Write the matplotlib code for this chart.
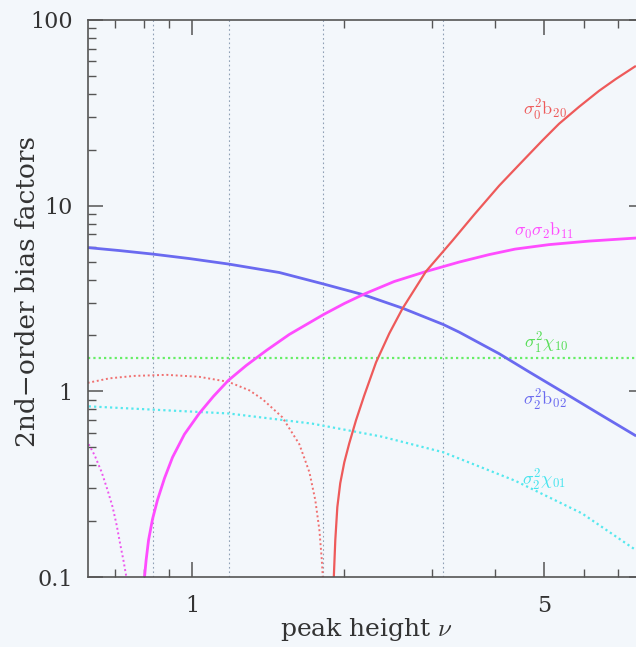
import matplotlib
matplotlib.use("Agg")
import matplotlib.pyplot as plt
from matplotlib.ticker import FixedLocator, FuncFormatter, NullFormatter

plt.rcParams['font.family'] = ['DejaVu Serif']
plt.rcParams['mathtext.fontset'] = 'cm'

# curves: (nu, value)
nu_b20 = [1.910, 1.923, 1.941, 1.967, 2.004, 2.050, 2.114, 2.196, 2.317, 2.462, 2.616, 2.911,
          3.288, 3.631, 4.071, 4.460, 4.955, 5.355, 5.868, 6.430, 6.950, 7.58]
b20 = [0.1, 0.158, 0.238, 0.320, 0.415, 0.525, 0.698, 0.952, 1.432, 2.050, 2.794, 4.418,
       6.484, 8.945, 12.81, 16.61, 22.36, 27.61, 34.07, 41.53, 48.18, 56.17]

nu_b11 = [0.803, 0.809, 0.818, 0.833, 0.852, 0.880, 0.913, 0.964, 1.032, 1.101, 1.179, 1.280,
          1.403, 1.558, 1.823, 2.004, 2.196, 2.518, 2.911, 3.390, 3.889, 4.379, 5.117, 6.142, 7.58]
b11 = [0.1, 0.1234, 0.158, 0.205, 0.2594, 0.3405, 0.4416, 0.5871, 0.7616, 0.9399, 1.146, 1.380,
       1.661, 2.025, 2.594, 2.972, 3.344, 3.904, 4.418, 4.969, 5.452, 5.836, 6.170, 6.444, 6.688]

nu_b02 = [0.619, 0.716, 0.833, 0.986, 1.179, 1.489, 1.823, 2.196, 2.616, 3.151, 3.390, 4.071,
          4.669, 5.505, 6.430, 7.58]
b02 = [5.946, 5.730, 5.487, 5.189, 4.849, 4.364, 3.784, 3.303, 2.805, 2.292, 2.084, 1.595,
       1.273, 0.9755, 0.757, 0.580]

nu_x10 = [0.62, 7.6]
x10 = [1.52, 1.52]

nu_x01 = [0.622, 0.833, 1.18, 1.73, 2.38, 3.15, 4.38, 5.95, 7.6]
x01 = [0.83, 0.797, 0.76, 0.67, 0.57, 0.47, 0.33, 0.22, 0.14]

# dotted companions (negative branches)
nu_b20n = [0.619, 0.684, 0.767, 0.888, 1.032, 1.179, 1.298, 1.379, 1.509, 1.631, 1.708, 1.755,
           1.788, 1.808, 1.816]
b20n = [1.111, 1.175, 1.211, 1.227, 1.197, 1.125, 1.012, 0.906, 0.725, 0.519, 0.367, 0.259,
        0.179, 0.123, 0.1]

nu_b11n = [0.622, 0.639, 0.660, 0.678, 0.694, 0.707, 0.719, 0.729, 0.739]
b11n = [0.519, 0.453, 0.367, 0.294, 0.238, 0.190, 0.1486, 0.1234, 0.1]

vlines = [0.833, 1.18, 1.82, 3.15]

fig = plt.figure(figsize=(6.36, 6.47), dpi=100)
bg = '#f3f7fb'
fig.patch.set_facecolor(bg)
ax = fig.add_axes([88/636, 1-577/647, (644-88)/636, (577-20)/647])
ax.set_facecolor(bg)

ax.set_xscale('log')
ax.set_yscale('log')
ax.set_xlim(0.62, 7.9)
ax.set_ylim(0.1, 100)

for v in vlines:
    ax.axvline(v, color='#8fa0b5', lw=0.8, ls=(0, (1.5, 2.5)), zorder=1)

dots = (0, (1, 1.4))
ax.plot(nu_x10, x10, color='#66ee66', lw=1.6, ls=dots)
ax.plot(nu_x01, x01, color='#55e8ee', lw=1.6, ls=dots)
ax.plot(nu_b20n, b20n, color='#f07070', lw=1.4, ls=dots)
ax.plot(nu_b11n, b11n, color='#ee55ee', lw=1.4, ls=dots)
ax.plot(nu_b02, b02, color='#6a6af0', lw=2.0)
ax.plot(nu_b11, b11, color='#ff4cff', lw=2.0)
ax.plot(nu_b20, b20, color='#ee5a5a', lw=1.6)

lab = dict(ha='center', va='center', fontsize=13)
ax.text(5.02, 32.4, r'$\sigma_0^2\mathrm{b}_{20}$', color='#ee5a5a', **lab)
ax.text(5.0, 7.3, r'$\sigma_0\sigma_2\mathrm{b}_{11}$', color='#ff4cff', **lab)
ax.text(5.05, 1.81, r'$\sigma_1^2\chi_{10}$', color='#55dd55', **lab)
ax.text(5.02, 0.895, r'$\sigma_2^2\mathrm{b}_{02}$', color='#6a6af0', **lab)
ax.text(5.0, 0.332, r'$\sigma_2^2\chi_{01}$', color='#44e4ee', **lab)

ax.xaxis.set_major_locator(FixedLocator([1, 5]))
ax.xaxis.set_minor_locator(FixedLocator([0.7, 0.8, 0.9, 2, 3, 4, 6, 7]))
ax.xaxis.set_major_formatter(FuncFormatter(lambda v, p: '%g' % v))
ax.xaxis.set_minor_formatter(NullFormatter())
ax.yaxis.set_major_formatter(FuncFormatter(lambda v, p: '%g' % v))
ax.yaxis.set_minor_formatter(NullFormatter())

ax.tick_params(which='both', direction='in', top=True, right=True,
               color='#555555', labelcolor='#333333', labelsize=16)
ax.tick_params(which='major', length=11, width=1.1)
ax.tick_params(which='minor', length=6, width=1.0)
ax.tick_params(axis='y', which='major', pad=11)
ax.tick_params(axis='x', which='major', pad=13)
for s in ax.spines.values():
    s.set_color('#555555')
    s.set_linewidth(1.2)

ax.set_xlabel(r'peak height $\nu$', fontsize=18, color='#333333', va='center')
ax.set_ylabel('2nd\u2212order bias factors', fontsize=19, color='#333333', va='center')
ax.xaxis.set_label_coords(0.5, -0.095)
ax.yaxis.set_label_coords(-0.108, 0.513)

fig.savefig('out.png', dpi=100, facecolor=bg)
